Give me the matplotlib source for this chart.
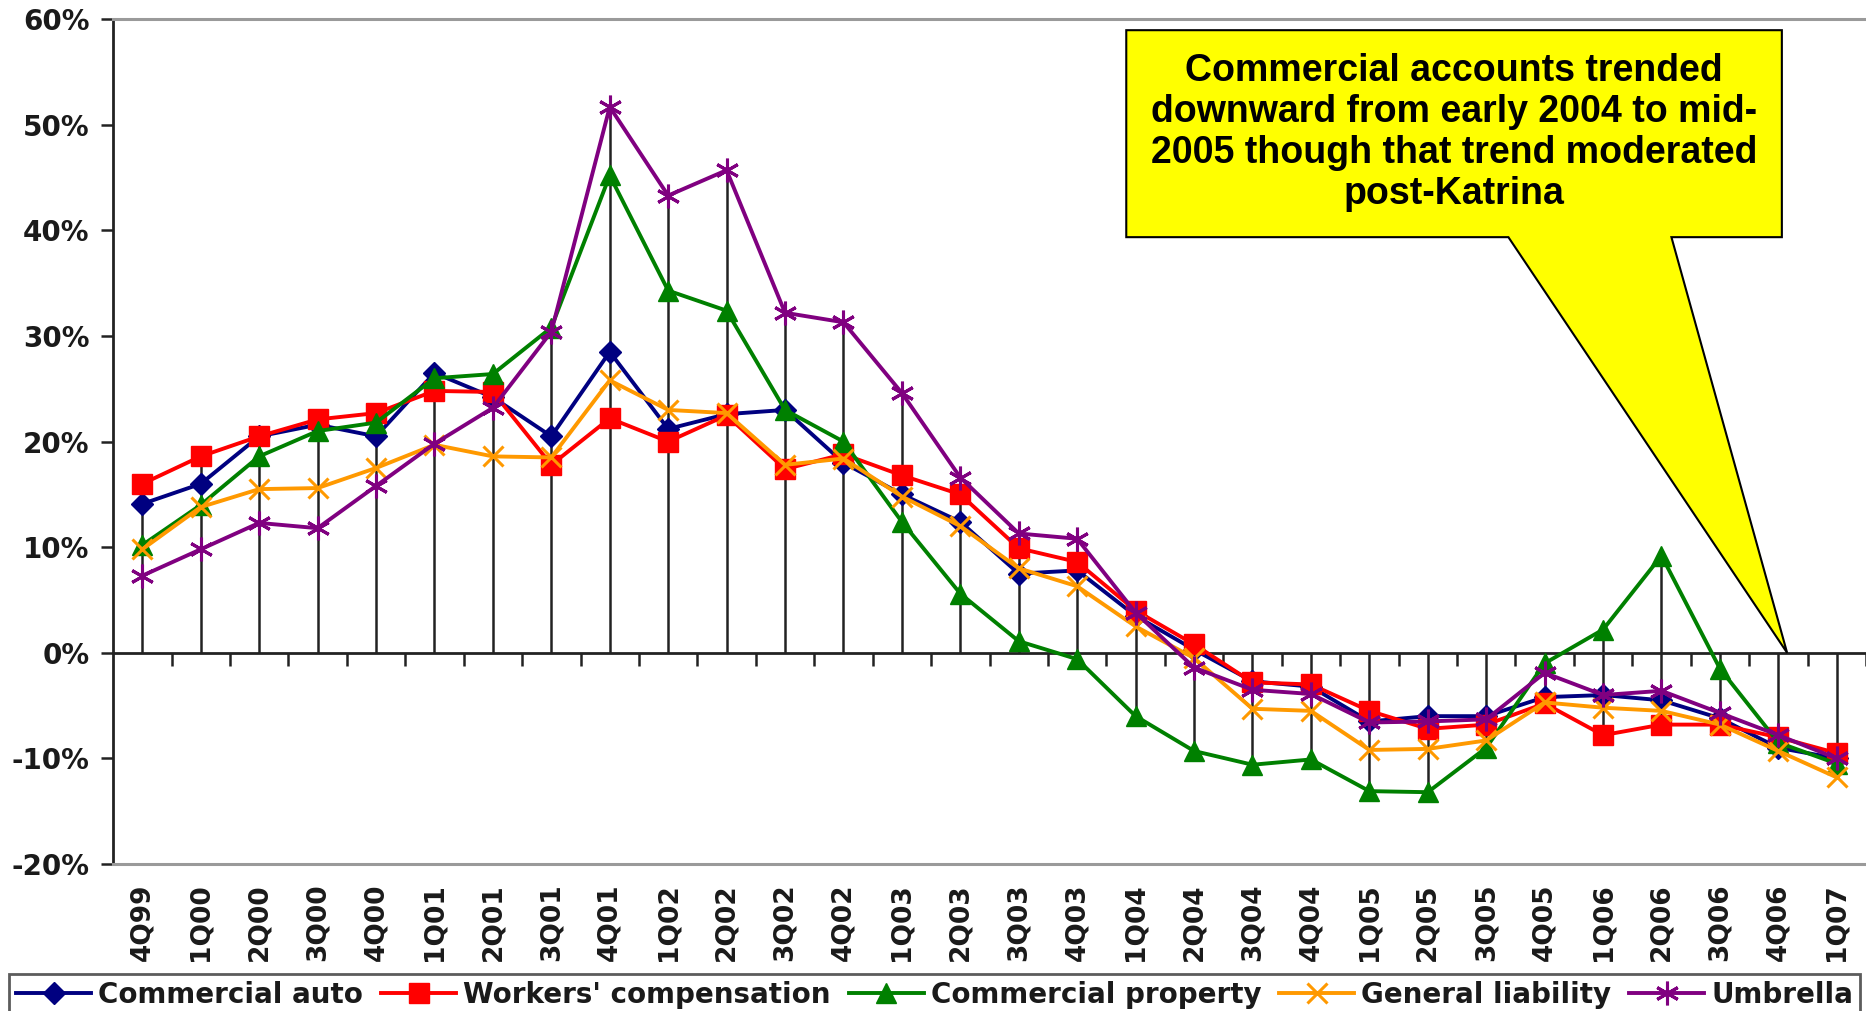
import matplotlib
matplotlib.use("Agg")
import matplotlib.pyplot as plt
from matplotlib.patches import Polygon
from matplotlib.ticker import FuncFormatter, FixedLocator
import numpy as np

quarters = ["4Q99", "1Q00", "2Q00", "3Q00", "4Q00", "1Q01", "2Q01", "3Q01", "4Q01",
            "1Q02", "2Q02", "3Q02", "4Q02", "1Q03", "2Q03", "3Q03", "4Q03",
            "1Q04", "2Q04", "3Q04", "4Q04", "1Q05", "2Q05", "3Q05", "4Q05",
            "1Q06", "2Q06", "3Q06", "4Q06", "1Q07"]

commercial_auto = [14.1, 16.0, 20.5, 21.6, 20.5, 26.5, 24.2, 20.5, 28.5, 21.2,
                   22.6, 23.0, 18.0, 15.0, 12.4, 7.5, 7.8, 3.5, 0.3, -2.7,
                   -3.2, -6.5, -6.0, -6.0, -4.2, -4.0, -4.5, -6.2, -9.0, -10.0]
workers_comp = [16.0, 18.6, 20.5, 22.1, 22.7, 24.8, 24.7, 17.8, 22.2, 20.0,
                22.5, 17.4, 18.8, 16.8, 15.0, 9.9, 8.6, 4.0, 0.8, -2.8,
                -3.0, -5.5, -7.2, -6.8, -4.8, -7.8, -6.8, -6.8, -8.0, -9.5]
commercial_property = [10.2, 14.0, 18.6, 21.0, 21.8, 26.0, 26.4, 30.8, 45.2, 34.3,
                       32.4, 23.0, 20.0, 12.4, 5.6, 1.1, -0.6, -6.0, -9.3, -10.6,
                       -10.1, -13.1, -13.2, -9.0, -1.0, 2.2, 9.2, -1.5, -8.5, -10.5]
general_liability = [9.8, 13.8, 15.5, 15.6, 17.5, 19.7, 18.6, 18.5, 25.8, 23.0,
                     22.7, 17.8, 18.4, 14.8, 12.0, 8.0, 6.3, 2.5, -0.5, -5.3,
                     -5.5, -9.2, -9.1, -8.3, -4.7, -5.2, -5.5, -6.8, -9.3, -11.8]
umbrella = [7.3, 9.8, 12.3, 11.8, 15.8, 19.8, 23.2, 30.4, 51.7, 43.3,
            45.7, 32.2, 31.3, 24.6, 16.6, 11.3, 10.8, 3.8, -1.4, -3.5,
            -3.9, -6.6, -6.5, -6.3, -1.9, -4.0, -3.6, -5.7, -7.8, -10.0]

series_names = ["Commercial auto", "Workers' compensation", "Commercial property",
                "General liability", "Umbrella"]
y_ticks = [-20, -10, 0, 10, 20, 30, 40, 50, 60]
callout_text = ("Commercial accounts trended\ndownward from early 2004 to mid-\n"
                "2005 though that trend moderated\npost-Katrina")

plt.rcParams["font.family"] = ["DejaVu Sans"]
TXT = "#1a1a1a"

fig = plt.figure(figsize=(18.66, 10.11), dpi=100)
ax = fig.add_axes([0.0606, 0.1454, 0.9394, 0.8356])

x = np.arange(len(quarters))
series = [commercial_auto, workers_comp, commercial_property, general_liability, umbrella]
styles = [
    dict(color="#000080", marker="D", markersize=11),
    dict(color="#FF0000", marker="s", markersize=14),
    dict(color="#008000", marker="^", markersize=14),
    dict(color="#FF9900", marker="x", markersize=14, markeredgewidth=2.2),
    dict(color="#800080", marker=(6, 2, 0), markersize=17, markeredgewidth=2.2),
]

# drop lines from the extreme values to the category axis
arr = np.array(series)
top = np.maximum(arr.max(axis=0), 0)
bot = np.minimum(arr.min(axis=0), 0)
ax.vlines(x, bot, top, color="#222222", lw=1.8, zorder=1)

handles = []
for vals, name, st in zip(series, series_names, styles):
    h, = ax.plot(x, vals, lw=2.8, label=name, zorder=3, **st)
    handles.append(h)

ax.set_xlim(-0.5, len(quarters) - 0.5)
ax.set_ylim(-20, 60)
ax.set_yticks(y_ticks)
ax.yaxis.set_major_formatter(FuncFormatter(lambda v, p: f"{v:.0f}%"))
ax.tick_params(axis="y", direction="out", length=9, width=1.8, color="#222222",
               labelsize=20, pad=8)
for lab in ax.get_yticklabels():
    lab.set_fontweight("bold")
    lab.set_color(TXT)

ax.set_xticks(x)
ax.set_xticklabels(quarters, rotation=90, fontsize=19, fontweight="bold", color=TXT)
ax.tick_params(axis="x", length=0, pad=14)

ax.spines["right"].set_visible(False)
for side in ["top", "bottom"]:
    ax.spines[side].set_color("#9a9a9a")
    ax.spines[side].set_linewidth(2.2)
ax.spines["left"].set_color("#222222")
ax.spines["left"].set_linewidth(2)

# category axis crossing at zero, with ticks between categories
zero_axis = ax.secondary_xaxis(0.25)
zero_axis.xaxis.set_major_locator(FixedLocator(np.arange(len(quarters)) + 0.5))
zero_axis.tick_params(axis="x", direction="out", length=9, width=1.8, color="#222222",
                      labelbottom=False)
zero_axis.spines["bottom"].set_color("#222222")
zero_axis.spines["bottom"].set_linewidth(2)

# callout box with pointer toward the zero line
tip = ax.transAxes.inverted().transform(ax.transData.transform((28.15, 0)))
box_l, box_r, box_t, box_b = 0.578, 0.952, 0.987, 0.742
base_l, base_r = 0.796, 0.889
callout = Polygon([(box_l, box_t), (box_r, box_t), (box_r, box_b), (base_r, box_b),
                   tuple(tip), (base_l, box_b), (box_l, box_b)],
                  closed=True, transform=ax.transAxes, facecolor="#FFFF00",
                  edgecolor="black", lw=1.5, zorder=6, clip_on=False)
ax.add_patch(callout)
ax.text((box_l + box_r) / 2, 0.866, callout_text, transform=ax.transAxes,
        ha="center", va="center", fontsize=27, fontweight="bold",
        family=["Liberation Sans Narrow", "Liberation Sans"], linespacing=1.18,
        zorder=7)

leg = fig.legend(handles=handles, loc="upper left", bbox_to_anchor=(0.005, 1 - 974 / 1011),
                 ncol=5, frameon=True, fancybox=False, edgecolor="#333333",
                 prop=dict(size=20, weight="bold"), handlelength=2.7,
                 columnspacing=0.65, handletextpad=0.25, borderpad=0.25,
                 borderaxespad=0)
leg.get_frame().set_linewidth(2)
for t in leg.get_texts():
    t.set_color(TXT)

fig.savefig("out.png", dpi=100, facecolor="white")
